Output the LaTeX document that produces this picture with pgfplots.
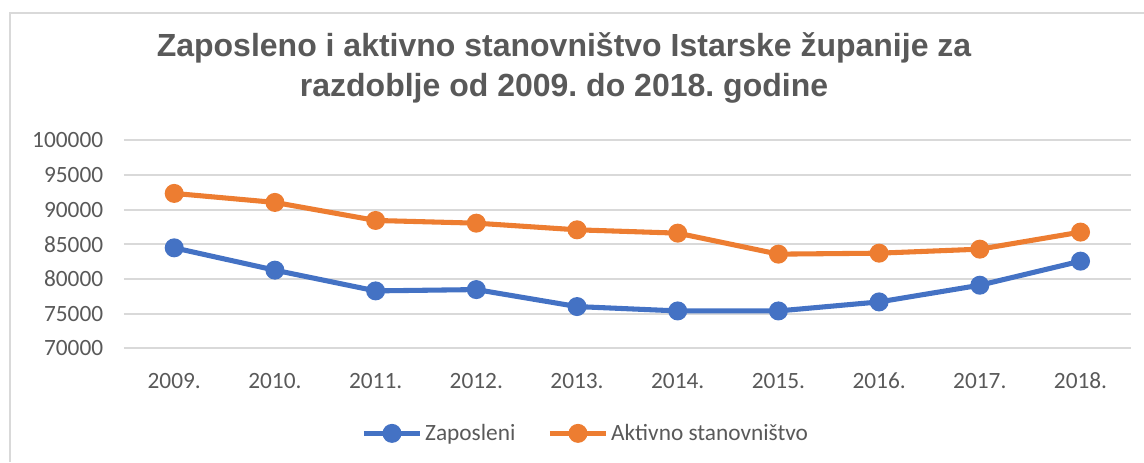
\documentclass[border=0pt]{standalone}
\usepackage{fontspec}
\setmainfont{Carlito}
\newfontfamily\titlefont{Liberation Sans}
\usepackage{pgfplots}
\pgfplotsset{compat=1.18}
\definecolor{zapblue}{HTML}{4472C4}
\definecolor{aktorange}{HTML}{ED7D31}
\definecolor{txtgray}{HTML}{595959}
\definecolor{gridgray}{HTML}{D9D9D9}
\frenchspacing
\begin{document}
\begin{tikzpicture}[x=0.75pt,y=0.75pt]
\useasboundingbox (0,0) rectangle (1144,462);
% chart frame (only top and left edges visible)
\draw[gridgray,line width=1pt] (10,0) -- (10,449) -- (1144,449);
% title
\node[anchor=base,text=txtgray,font=\titlefont\bfseries\fontsize{24}{28}\selectfont] at (564,406) {Zaposleno i aktivno stanovništvo Istarske županije za};
\node[anchor=base,text=txtgray,font=\titlefont\bfseries\fontsize{24}{28}\selectfont] at (564,366) {razdoblje od 2009.\ do 2018.\ godine};
\begin{axis}[
  at={(123,164)}, anchor=south west,
  scale only axis,
  width=755.25pt, height=156pt,
  xmin=-0.5, xmax=9.5,
  ymin=70000, ymax=100000,
  xtick=data,
  xticklabels={2009.,2010.,2011.,2012.,2013.,2014.,2015.,2016.,2017.,2018.},
  ytick={70000,75000,80000,85000,90000,95000,100000},
  scaled y ticks=false,
  yticklabel={\pgfmathprintnumber[fixed,1000 sep={}]{\tick}},
  /pgf/number format/assume math mode=true,
  axis line style={draw=none},
  major tick length=0pt,
  ymajorgrids,
  grid style={gridgray,line width=1.3pt},
  tick label style={text=txtgray,font=\fontsize{17.5}{20}\selectfont},
  yticklabel style={xshift=-12pt},
  xticklabel style={anchor=base,yshift=-30pt},
  legend columns=2,
  legend style={at={(0.459,-0.409)},anchor=center,draw=none,fill=none,
    font=\fontsize{17.5}{20}\selectfont,text=txtgray,
    /tikz/every even column/.append style={column sep=22pt}},
  legend cell align=left,
  legend image code/.code={\draw[mark repeat=2,mark phase=2,#1] plot coordinates {(0pt,0pt) (21pt,0pt) (42pt,0pt)};},
  every axis plot/.append style={line width=3.8pt},
]
\addplot[color=zapblue,mark=*,mark size=5.2pt,mark options={solid}] coordinates {
  (0,84490) (1,81270) (2,78280) (3,78470) (4,76020)
  (5,75390) (6,75390) (7,76690) (8,79100) (9,82570)
};
\addlegendentry{Zaposleni}
\addplot[color=aktorange,mark=*,mark size=5.2pt,mark options={solid}] coordinates {
  (0,92340) (1,91040) (2,88440) (3,88050) (4,87090)
  (5,86610) (6,83580) (7,83720) (8,84300) (9,86760)
};
\addlegendentry{Aktivno stanovništvo}
\end{axis}
\end{tikzpicture}
\end{document}
